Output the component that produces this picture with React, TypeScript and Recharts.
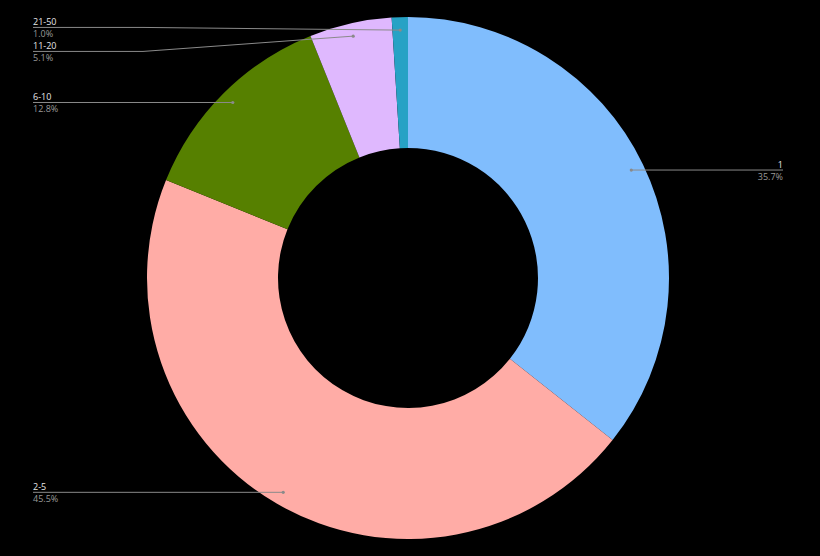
import { PieChart, Pie, Cell } from 'recharts';

const categories = ['1', '2-5', '6-10', '11-20', '21-50'];
const shares = [35.7, 45.5, 12.8, 5.1, 1.0];
const colors = ['#80bdfd', '#ffaca6', '#568000', '#dfb8fe', '#27a2c5'];

const W = 820;
const H = 556;
const CX = 408;
const CY = 278;
const OUTER = 261;
const INNER = 130;
const DOT_R = 248;
const GAP = 24;
const RAD = Math.PI / 180;

const data = categories.map((name, i) => ({ name, value: shares[i] }));

// label line heights: crowded labels get spread apart, others stay level with their dot
const labelY: number[] = (() => {
  const total = shares.reduce((a, b) => a + b, 0);
  let acc = 0;
  const items = shares.map((v, i) => {
    const mid = 90 - ((acc + v / 2) / total) * 360;
    acc += v;
    const y = CY - DOT_R * Math.sin(mid * RAD);
    const x = CX + DOT_R * Math.cos(mid * RAD);
    return { i, y, left: x < CX };
  });
  const out: number[] = items.map((it) => it.y);
  [true, false].forEach((side) => {
    const group = items.filter((it) => it.left === side).sort((a, b) => a.y - b.y);
    const clusters: (typeof group)[] = [];
    group.forEach((it) => {
      const last = clusters[clusters.length - 1];
      if (last && it.y < last[last.length - 1].y + GAP) last.push(it);
      else clusters.push([it]);
    });
    clusters
      .filter((c) => c.length > 1)
      .forEach((c) => {
        let prev = -Infinity;
        let shifted = 0;
        c.forEach((it) => {
          const y = Math.max(it.y, prev + GAP);
          shifted += y - it.y;
          out[it.i] = y;
          prev = y;
        });
        c.forEach((it) => (out[it.i] -= shifted * 0.15));
      });
  });
  return out;
})();

const renderLabel = (props: any) => {
  const { cx, cy, midAngle, index, name, value } = props;
  const dx = cx + DOT_R * Math.cos(-midAngle * RAD);
  const dy = cy + DOT_R * Math.sin(-midAngle * RAD);
  const left = dx < cx;
  const ly = labelY[index];
  const edge = left ? 33 : 783;
  const bend = left ? 143 : 700;
  const moved = Math.abs(ly - dy) > 0.5;
  const pts = moved
    ? left
      ? `${edge},${ly} ${bend},${ly} ${dx},${dy}`
      : `${dx},${dy} ${bend},${ly} ${edge},${ly}`
    : `${edge},${dy} ${dx},${dy}`;
  return (
    <g key={`lbl-${index}`}>
      <polyline points={pts} fill="none" stroke="#8a8a8a" strokeWidth={1} />
      <circle cx={dx} cy={dy} r={1.6} fill="#8a8a8a" />
      <text
        x={edge}
        y={ly - 2}
        textAnchor={left ? 'start' : 'end'}
        fill="#e6e6e6"
        fontSize={9}
        fontFamily="'Open Sans', sans-serif"
      >
        {name}
      </text>
      <text
        x={edge}
        y={ly + 10}
        textAnchor={left ? 'start' : 'end'}
        fill="#9a9a9a"
        fontSize={9}
        fontFamily="'Open Sans', sans-serif"
      >
        {`${Number(value).toFixed(1)}%`}
      </text>
    </g>
  );
};

export default function App() {
  return (
    <div style={{ position: 'absolute', left: 0, top: 0, width: W, height: H, background: '#000' }}>
      <PieChart width={W} height={H} margin={{ top: 0, right: 0, bottom: 0, left: 0 }}>
        <Pie
          data={data}
          dataKey="value"
          nameKey="name"
          cx={CX}
          cy={CY}
          innerRadius={INNER}
          outerRadius={OUTER}
          startAngle={90}
          endAngle={-270}
          stroke="none"
          label={renderLabel}
          labelLine={false}
          isAnimationActive={false}
        >
          {data.map((d, i) => (
            <Cell key={`cell-${d.name}`} fill={colors[i]} />
          ))}
        </Pie>
      </PieChart>
    </div>
  );
}
